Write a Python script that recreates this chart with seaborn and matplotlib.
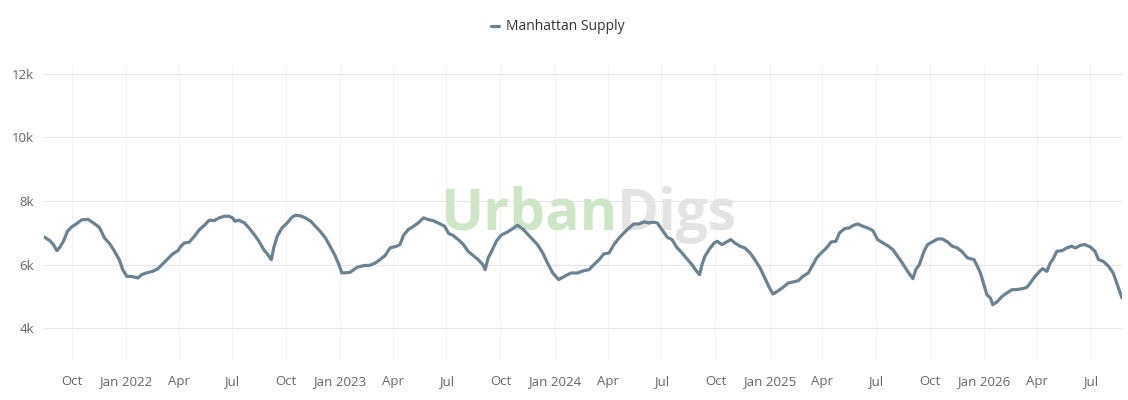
import matplotlib
matplotlib.use("Agg")
import matplotlib.pyplot as plt
import matplotlib.dates as mdates
from matplotlib.ticker import FixedLocator, FuncFormatter
import seaborn as sns
import pandas as pd

series_name = "Manhattan Supply"

dates = [
    "2021-08-15", "2021-08-25", "2021-08-31", "2021-09-06", "2021-09-11", "2021-09-17", "2021-09-24",
    "2021-10-01", "2021-10-09", "2021-10-18", "2021-10-29", "2021-11-07", "2021-11-17", "2021-11-26",
    "2021-12-05", "2021-12-13", "2021-12-21", "2021-12-27", "2022-01-03", "2022-01-13", "2022-01-22",
    "2022-01-28", "2022-02-05", "2022-02-16", "2022-02-25", "2022-03-05", "2022-03-14", "2022-03-22",
    "2022-03-31", "2022-04-05", "2022-04-11", "2022-04-19", "2022-04-28", "2022-05-06", "2022-05-15",
    "2022-05-23", "2022-06-01", "2022-06-09", "2022-06-18", "2022-06-26", "2022-07-02", "2022-07-06",
    "2022-07-13", "2022-07-22", "2022-07-30", "2022-08-07", "2022-08-16", "2022-08-24", "2022-08-31",
    "2022-09-06", "2022-09-10", "2022-09-16", "2022-09-24", "2022-10-03", "2022-10-11", "2022-10-17",
    "2022-10-26", "2022-11-03", "2022-11-12", "2022-11-20", "2022-11-29", "2022-12-07", "2022-12-15",
    "2022-12-24", "2022-12-30", "2023-01-04", "2023-01-13", "2023-01-18", "2023-01-30", "2023-02-10",
    "2023-02-21", "2023-03-02", "2023-03-10", "2023-03-19", "2023-03-27", "2023-04-07", "2023-04-13",
    "2023-04-19", "2023-04-27", "2023-05-06", "2023-05-14", "2023-05-23", "2023-05-31", "2023-06-08",
    "2023-06-17", "2023-06-28", "2023-07-05", "2023-07-12", "2023-07-21", "2023-07-29", "2023-08-07",
    "2023-08-15", "2023-08-24", "2023-09-01", "2023-09-05", "2023-09-10", "2023-09-16", "2023-09-24",
    "2023-10-02", "2023-10-13", "2023-10-22", "2023-10-30", "2023-11-08", "2023-11-16", "2023-11-25",
    "2023-12-03", "2023-12-12", "2023-12-20", "2023-12-29", "2024-01-08", "2024-01-18", "2024-01-29",
    "2024-02-09", "2024-02-20", "2024-02-29", "2024-03-08", "2024-03-17", "2024-03-25", "2024-04-03",
    "2024-04-11", "2024-04-20", "2024-04-28", "2024-05-07", "2024-05-15", "2024-05-24", "2024-06-01",
    "2024-06-10", "2024-06-18", "2024-06-24", "2024-07-02", "2024-07-11", "2024-07-19", "2024-07-27",
    "2024-08-05", "2024-08-13", "2024-08-22", "2024-08-30", "2024-09-04", "2024-09-08", "2024-09-13",
    "2024-09-22", "2024-09-29", "2024-10-04", "2024-10-12", "2024-10-20", "2024-10-27", "2024-11-03",
    "2024-11-12", "2024-11-20", "2024-11-29", "2024-12-07", "2024-12-16", "2024-12-24", "2025-01-01",
    "2025-01-07", "2025-01-16", "2025-01-24", "2025-02-02", "2025-02-10", "2025-02-19", "2025-02-27",
    "2025-03-08", "2025-03-16", "2025-03-22", "2025-03-30", "2025-04-08", "2025-04-16", "2025-04-24",
    "2025-04-30", "2025-05-09", "2025-05-17", "2025-05-23", "2025-05-31", "2025-06-09", "2025-06-17",
    "2025-06-26", "2025-07-04", "2025-07-13", "2025-07-21", "2025-07-30", "2025-08-07", "2025-08-15",
    "2025-08-24", "2025-09-02", "2025-09-07", "2025-09-13", "2025-09-21", "2025-09-27", "2025-10-05",
    "2025-10-14", "2025-10-22", "2025-10-31", "2025-11-08", "2025-11-17", "2025-11-25", "2025-12-04",
    "2025-12-15", "2025-12-20", "2025-12-26", "2026-01-01", "2026-01-06", "2026-01-12", "2026-01-16",
    "2026-01-23", "2026-02-01", "2026-02-09", "2026-02-18", "2026-02-26", "2026-03-07", "2026-03-15",
    "2026-03-21", "2026-03-29", "2026-04-07", "2026-04-11", "2026-04-18", "2026-04-24", "2026-04-29",
    "2026-05-05", "2026-05-14", "2026-05-22", "2026-05-30", "2026-06-06", "2026-06-14", "2026-06-22",
    "2026-07-01", "2026-07-09", "2026-07-15", "2026-07-23", "2026-08-01", "2026-08-09", "2026-08-15",
    "2026-08-21", "2026-08-24",
]

supply = [
    6870, 6756, 6630, 6441, 6546, 6735, 7050,
    7187, 7281, 7407, 7428, 7312, 7176, 6840,
    6651, 6420, 6158, 5843, 5633, 5622, 5580,
    5685, 5737, 5790, 5874, 6021, 6189, 6336,
    6441, 6578, 6683, 6704, 6893, 7090, 7239,
    7397, 7386, 7470, 7522, 7522, 7470, 7365,
    7397, 7312, 7155, 6966, 6735, 6473, 6315,
    6158, 6525, 6893, 7155, 7312, 7491, 7554,
    7533, 7470, 7365, 7207, 7029, 6840, 6578,
    6263, 6000, 5737, 5748, 5758, 5916, 5969,
    5979, 6053, 6158, 6294, 6525, 6578, 6630,
    6924, 7102, 7207, 7312, 7470, 7418, 7386,
    7312, 7207, 6977, 6924, 6788, 6651, 6420,
    6294, 6158, 6000, 5843, 6210, 6420, 6735,
    6924, 7029, 7134, 7239, 7124, 6966, 6788,
    6630, 6368, 6053, 5737, 5528, 5633, 5737,
    5737, 5811, 5843, 6000, 6158, 6336, 6368,
    6630, 6840, 6998, 7155, 7281, 7281, 7344,
    7312, 7334, 7312, 7102, 6861, 6788, 6546,
    6368, 6189, 6000, 5790, 5685, 6000, 6263,
    6525, 6683, 6735, 6630, 6714, 6788, 6683,
    6578, 6525, 6368, 6158, 5895, 5580, 5265,
    5076, 5181, 5286, 5423, 5454, 5496, 5633,
    5737, 6000, 6210, 6368, 6525, 6714, 6735,
    6998, 7134, 7155, 7229, 7281, 7207, 7155,
    7071, 6788, 6683, 6599, 6473, 6263, 6053,
    5790, 5559, 5843, 6000, 6420, 6630, 6714,
    6808, 6808, 6714, 6578, 6525, 6399, 6210,
    6158, 5979, 5737, 5370, 5055, 4950, 4740,
    4824, 5003, 5108, 5213, 5213, 5244, 5286,
    5423, 5633, 5811, 5874, 5790, 6053, 6189,
    6420, 6441, 6525, 6578, 6525, 6609, 6630,
    6557, 6420, 6158, 6105, 5948, 5737, 5423,
    5108, 4950,
]

y_ticks = [4000, 6000, 8000, 10000, 12000]
tick_months = [1, 4, 7, 10]

df = pd.DataFrame({"date": pd.to_datetime(dates), "value": supply, "series": series_name})

sns.set_style("white")
plt.rcParams["font.family"] = ["Open Sans", "DejaVu Sans"]

line_color = "#6d8291"
text_gray = "#666666"

fig = plt.figure(figsize=(11.28, 4.0), dpi=100)
fig.patch.set_facecolor("white")
ax = fig.add_axes([44 / 1128, 40 / 400, (1122 - 44) / 1128, (360 - 65) / 400])

sns.lineplot(data=df, x="date", y="value", hue="series", palette=[line_color],
             linewidth=2.3, ax=ax, zorder=3)

# watermark
ax.text(617 / 1128, 1 - 230 / 400, "Urban", transform=fig.transFigure, ha="right",
        va="baseline", fontsize=41, fontweight="bold", color="#cfe5c7", zorder=1,
        family=["Open Sans", "DejaVu Sans"])
ax.text(617 / 1128, 1 - 230 / 400, "Digs", transform=fig.transFigure, ha="left",
        va="baseline", fontsize=41, fontweight="bold", color="#e3e3e3", zorder=1,
        family=["Open Sans", "DejaVu Sans"])

ax.set_xlim(df["date"].min(), df["date"].max())
ax.set_ylim(3000, 12280)

ax.yaxis.set_major_locator(FixedLocator(y_ticks))
ax.yaxis.set_major_formatter(FuncFormatter(lambda v, p: f"{int(v / 1000)}k"))

ax.xaxis.set_major_locator(mdates.MonthLocator(bymonth=tick_months))


def fmt_date(v, pos):
    d = mdates.num2date(v)
    return d.strftime("%b %Y") if d.month == 1 else d.strftime("%b")


ax.xaxis.set_major_formatter(FuncFormatter(fmt_date))

ax.set_xlabel("")
ax.set_ylabel("")
for s in ax.spines.values():
    s.set_visible(False)

ax.grid(axis="y", color="#e6e6e6", linewidth=0.8)
ax.grid(axis="x", color="#f3f3f3", linewidth=0.8)
ax.set_axisbelow(True)

ax.tick_params(axis="both", length=0, labelsize=9.5, labelcolor=text_gray)
ax.tick_params(axis="y", pad=7)
ax.tick_params(axis="x", pad=11)

leg = ax.legend(loc="center", bbox_to_anchor=(558 / 1128, 1 - 27 / 400),
                bbox_transform=fig.transFigure, frameon=False, handlelength=0.6,
                handletextpad=0.5, fontsize=10)
for t in leg.get_texts():
    t.set_color("#333333")

fig.savefig("out.png", dpi=100, facecolor="white")
